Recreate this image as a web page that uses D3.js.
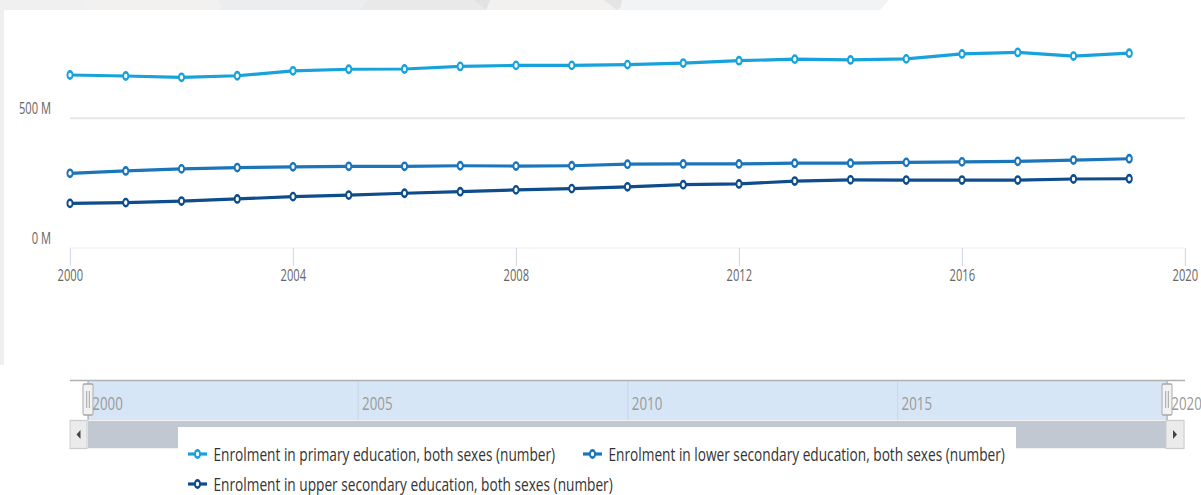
<!DOCTYPE html>
<html>
<head>
<meta charset="utf-8">
<script src="https://cdnjs.cloudflare.com/ajax/libs/d3/7.8.5/d3.min.js"></script>
<style>
  html, body { margin: 0; padding: 0; background: #fff; overflow: hidden; }
  #chart { width: 1201px; height: 495px; }
  #chart text { font-family: 'Open Sans', sans-serif; }
</style>
</head>
<body>
<div id="chart"></div>
<script>
//Data
const years = [2000, 2001, 2002, 2003, 2004, 2005, 2006, 2007, 2008, 2009,
               2010, 2011, 2012, 2013, 2014, 2015, 2016, 2017, 2018, 2019];
const primary = [667, 663, 658, 664, 683, 689, 690, 700, 704, 704,
                 707, 713, 722, 728, 725, 729, 748, 754, 740, 751];
const lowerSecondary = [288, 297, 305, 310, 313, 315, 315, 317, 316, 317,
                        323, 324, 324, 327, 327, 330, 332, 334, 339, 344];
const upperSecondary = [172, 175, 181, 189, 198, 204, 211, 217, 224, 229,
                        236, 244, 247, 258, 263, 262, 262, 262, 266, 267];
const seriesNames = [
    'Enrolment in primary education, both sexes (number)',
    'Enrolment in lower secondary education, both sexes (number)',
    'Enrolment in upper secondary education, both sexes (number)'
];
const xTicks = [2000, 2004, 2008, 2012, 2016, 2020];
const yTicks = [0, 500];
const navTicks = [2000, 2005, 2010, 2015, 2020];

//Colours
const COLOR_PRIMARY = '#18a2dc',
COLOR_LOWER = '#1a75bb',
COLOR_UPPER = '#0e4c8c',
COLOR_LABEL = '#666666',
COLOR_GRID = '#e6e6e6';

//The reference screenshot is squeezed horizontally, so draw wide and squeeze
const K = 0.72;
const WIDTH = 1201, HEIGHT = 495;
function sx(px) { return px / K; }

let svg = d3.select('#chart')
    .append('svg')
      .attr('width', WIDTH)
      .attr('height', HEIGHT)
      .attr('viewBox', `0 0 ${WIDTH / K} ${HEIGHT}`)
      .attr('preserveAspectRatio', 'none');

//Page background (grey band at the top)
let bg = svg.append('g').attr('class', 'bg');
let bandShapes = [
    {p: [[0,0],[888,0],[880,10],[0,10]], c: '#f0f0f0'},
    {p: [[84,0],[218,0],[222,10],[88,10]], c: '#f2f1ef'},
    {p: [[218,0],[368,0],[360,10],[222,10]], c: '#ecedef'},
    {p: [[368,0],[490,0],[486,10],[360,10]], c: '#e9e9e9'},
    {p: [[474,0],[498,0],[487,10]], c: '#e2e2e2'},
    {p: [[490,0],[616,0],[620,10],[486,10]], c: '#f2f1ef'},
    {p: [[604,0],[630,0],[617,10]], c: '#e4e4e4'},
    {p: [[622,0],[888,0],[880,10],[620,10]], c: '#f2f3f4'}
];
bg.selectAll('polygon')
    .data(bandShapes)
    .enter()
    .append('polygon')
    .attr('points', d => d.p.map(q => sx(q[0]) + ',' + q[1]).join(' '))
    .attr('fill', d => d.c);
bg.append('rect')
    .attr('x', 0).attr('y', 10)
    .attr('width', sx(4)).attr('height', 355)
    .attr('fill', '#efefef');

//Scales
let x = d3.scaleLinear()
    .domain([2000, 2020])
    .range([sx(70), sx(1185)]);

let y = d3.scaleLinear()
    .domain([0, 500])
    .range([248, 118.3]);

let xNav = d3.scaleLinear()
    .domain([2000, 2020])
    .range([sx(88), sx(1167)]);

//Grid lines
svg.append('g')
    .attr('class', 'grid')
    .selectAll('line')
    .data(yTicks)
    .enter()
    .append('line')
    .attr('x1', x(2000))
    .attr('x2', x(2020))
    .attr('y1', d => y(d))
    .attr('y2', d => y(d))
    .attr('stroke', d => d == 0 ? '#f3f3f3' : COLOR_GRID)
    .attr('stroke-width', d => d == 0 ? 1.5 : 2);

//X axis
let xAxis = function(g) {
    g.call(d3.axisBottom(x).tickValues(xTicks).tickFormat(d3.format('d')).tickSize(18).tickPadding(4.5));
    g.select('.domain').remove();
    g.selectAll('.tick line').attr('stroke', '#ccd6eb').attr('stroke-width', 1.4);
    g.selectAll('.tick text')
        .attr('fill', COLOR_LABEL)
        .style('font-size', '15.5px');
};
svg.append('g')
    .attr('transform', 'translate(0,248)')
    .call(xAxis);

//Y axis
let yAxis = function(g) {
    g.call(d3.axisLeft(y).tickValues(yTicks).tickFormat(d => d + ' M').tickSize(0).tickPadding(0));
    g.select('.domain').remove();
    g.selectAll('.tick text')
        .attr('y', -9.5)
        .attr('fill', COLOR_LABEL)
        .style('font-size', '15.5px');
};
svg.append('g')
    .attr('transform', `translate(${sx(51)},0)`)
    .call(yAxis);

//Series
let series = [
    {name: seriesNames[0], color: COLOR_PRIMARY, values: primary},
    {name: seriesNames[1], color: COLOR_LOWER, values: lowerSecondary},
    {name: seriesNames[2], color: COLOR_UPPER, values: upperSecondary}
];

let line = d3.line()
    .x((d, i) => x(years[i]))
    .y(d => y(d));

let serieG = svg.append('g')
    .attr('class', 'chart-g')
    .selectAll('g')
    .data(series)
    .enter()
    .append('g')
    .attr('class', (d, i) => 'serie serie-' + i);

serieG.append('path')
    .attr('d', d => line(d.values))
    .attr('fill', 'none')
    .attr('stroke', d => d.color)
    .attr('stroke-width', 3.2)
    .attr('stroke-linejoin', 'round');

serieG.selectAll('circle')
    .data(d => d.values.map(v => ({v: v, color: d.color})))
    .enter()
    .append('circle')
    .attr('cx', (d, i) => x(years[i]))
    .attr('cy', d => y(d.v))
    .attr('r', 3.6)
    .attr('fill', '#fff')
    .attr('stroke', d => d.color)
    .attr('stroke-width', 2.6);

//Navigator
let nav = svg.append('g').attr('class', 'navigator');

nav.append('rect')
    .attr('x', xNav(2000))
    .attr('y', 381)
    .attr('width', xNav(2020) - xNav(2000))
    .attr('height', 39)
    .attr('fill', '#d7e6f6');

let navAxis = function(g) {
    g.call(d3.axisBottom(xNav).tickValues(navTicks).tickFormat(d3.format('d')).tickSize(39));
    g.select('.domain').remove();
    g.selectAll('.tick line').attr('stroke', '#c9d6e6').attr('stroke-width', 1.4);
    g.selectAll('.tick text')
        .attr('x', sx(4))
        .attr('y', 23)
        .attr('dy', '0.35em')
        .attr('text-anchor', 'start')
        .attr('fill', '#999999')
        .style('font-size', '18.5px');
};
nav.append('g')
    .attr('transform', 'translate(0,381)')
    .call(navAxis);

//Outline
nav.append('path')
    .attr('d', `M${sx(70)},380.5H${sx(1185)}M${xNav(2000)},380.5V420M${xNav(2020)},380.5V420`)
    .attr('fill', 'none')
    .attr('stroke', '#b0b0b0')
    .attr('stroke-width', 1.6);

//Handles
let handles = nav.selectAll('.handle')
    .data([2000, 2020])
    .enter()
    .append('g')
    .attr('class', 'handle')
    .attr('transform', d => `translate(${xNav(d)},0)`);
handles.append('rect')
    .attr('x', sx(-5))
    .attr('y', 384)
    .attr('width', sx(10))
    .attr('height', 31)
    .attr('rx', 1.5)
    .attr('fill', '#f2f2f2')
    .attr('stroke', '#a6a6a6')
    .attr('stroke-width', 1.3);
handles.selectAll('line')
    .data([-1.3, 1.3])
    .enter()
    .append('line')
    .attr('x1', d => sx(d)).attr('x2', d => sx(d))
    .attr('y1', 391).attr('y2', 408)
    .attr('stroke', '#a0a0a0')
    .attr('stroke-width', 1.3);

//Scrollbar
let scroll = svg.append('g').attr('class', 'scrollbar');
scroll.append('rect')
    .attr('x', sx(70)).attr('y', 420)
    .attr('width', sx(1185) - sx(70)).attr('height', 29)
    .attr('fill', '#f2f2f2');
scroll.append('rect')
    .attr('x', xNav(2000)).attr('y', 421)
    .attr('width', xNav(2020) - xNav(2000)).attr('height', 27)
    .attr('fill', '#c1c8d1');
let buttons = scroll.selectAll('.button')
    .data([{x0: 70, x1: 87, dir: -1}, {x0: 1166, x1: 1184, dir: 1}])
    .enter()
    .append('g')
    .attr('class', 'button');
buttons.append('rect')
    .attr('x', d => sx(d.x0)).attr('y', 420.5)
    .attr('width', d => sx(d.x1) - sx(d.x0)).attr('height', 28)
    .attr('fill', '#ebebeb')
    .attr('stroke', '#cccccc')
    .attr('stroke-width', 1.3);
buttons.append('path')
    .attr('d', d => {
        let cx = sx((d.x0 + d.x1) / 2);
        return `M${cx - d.dir * sx(2)},430L${cx + d.dir * sx(2)},434.5L${cx - d.dir * sx(2)},439Z`;
    })
    .attr('fill', '#444');

//Legend
let legendPos = [[188, 454], [583, 454], [188, 484]];
let legend = svg.append('g').attr('class', 'legend');
legend.append('rect')
    .attr('x', sx(178)).attr('y', 427)
    .attr('width', sx(1016) - sx(178)).attr('height', 70)
    .attr('fill', '#fff');
let items = legend.selectAll('.item')
    .data(series)
    .enter()
    .append('g')
    .attr('class', 'item')
    .attr('transform', (d, i) => `translate(${sx(legendPos[i][0])},${legendPos[i][1]})`);
items.append('line')
    .attr('x1', 0).attr('x2', sx(19))
    .attr('y1', 0).attr('y2', 0)
    .attr('stroke', d => d.color)
    .attr('stroke-width', 3.2);
items.append('circle')
    .attr('cx', sx(9.5)).attr('cy', 0)
    .attr('r', 3.6)
    .attr('fill', '#fff')
    .attr('stroke', d => d.color)
    .attr('stroke-width', 2.6);
items.append('text')
    .attr('x', sx(25.5))
    .attr('y', 0)
    .attr('dy', '0.35em')
    .attr('fill', '#333333')
    .style('font-size', '19px')
    .text(d => d.name);
</script>
</body>
</html>
